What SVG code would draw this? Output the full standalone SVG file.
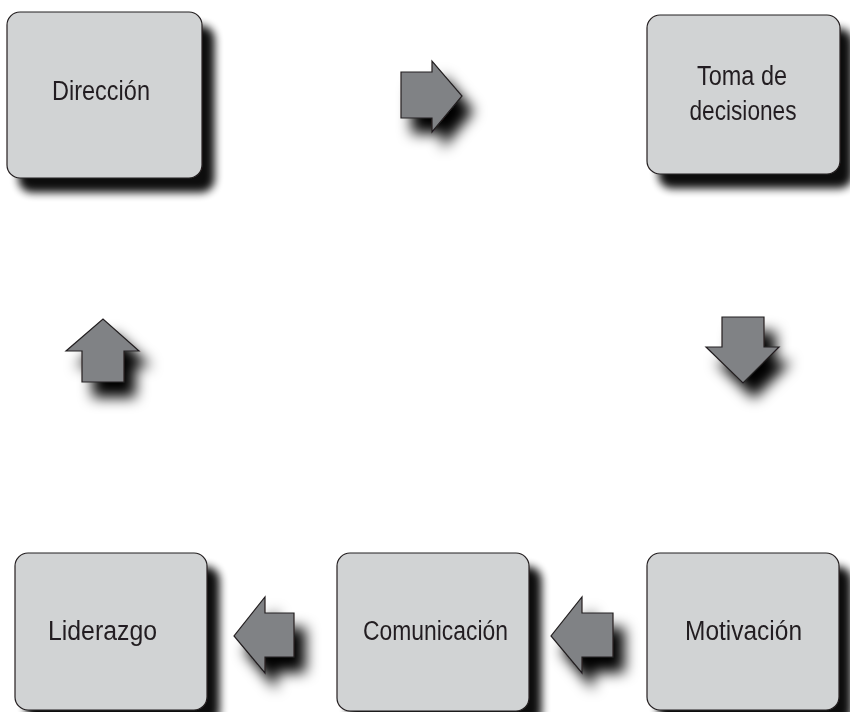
<svg xmlns="http://www.w3.org/2000/svg" width="850" height="712" viewBox="0 0 850 712">
<defs>
<filter id="sh" x="-20%" y="-20%" width="150%" height="150%">
<feGaussianBlur in="SourceAlpha" stdDeviation="4.5"/>
<feOffset dx="12" dy="14" result="b"/>
<feComponentTransfer><feFuncA type="linear" slope="0.95"/></feComponentTransfer>
<feMerge><feMergeNode/><feMergeNode in="SourceGraphic"/></feMerge>
</filter>
<filter id="ash" x="-50%" y="-50%" width="220%" height="220%">
<feGaussianBlur in="SourceAlpha" stdDeviation="7"/>
<feOffset dx="11" dy="15" result="b"/>
<feComponentTransfer><feFuncA type="linear" slope="1"/></feComponentTransfer>
<feMerge><feMergeNode/><feMergeNode in="SourceGraphic"/></feMerge>
</filter>
</defs>
<style>
.box{fill:#d1d3d4;stroke:#231f20;stroke-width:1.2}
.lbl{font-family:"Liberation Sans",Arial,sans-serif;font-size:27px;fill:#231f20;text-anchor:middle}
.arr{fill:#808285;stroke:#231f20;stroke-width:1.2;stroke-linejoin:miter}
</style>
<rect width="850" height="712" fill="#ffffff"/>
<g id="direccion" filter="url(#sh)">
<rect class="box" x="7" y="12" width="195" height="166" rx="13"/>
<text class="lbl" x="101" y="100" textLength="98" lengthAdjust="spacingAndGlyphs">Dirección</text>
</g>
<g id="toma" filter="url(#sh)">
<rect class="box" x="647" y="15" width="193" height="159" rx="13"/>
<text class="lbl" x="742" y="85" textLength="90" lengthAdjust="spacingAndGlyphs">Toma de</text>
<text class="lbl" x="743" y="120" textLength="107" lengthAdjust="spacingAndGlyphs">decisiones</text>
</g>
<g id="liderazgo" filter="url(#sh)">
<rect class="box" x="15" y="553" width="192" height="157" rx="13"/>
<text class="lbl" x="102.5" y="640" textLength="109" lengthAdjust="spacingAndGlyphs">Liderazgo</text>
</g>
<g id="comunicacion" filter="url(#sh)">
<rect class="box" x="337" y="553" width="192" height="158" rx="13"/>
<text class="lbl" x="435.5" y="640" textLength="145" lengthAdjust="spacingAndGlyphs">Comunicación</text>
</g>
<g id="motivacion" filter="url(#sh)">
<rect class="box" x="647" y="553" width="192" height="157" rx="13"/>
<text class="lbl" x="743.5" y="640" textLength="117" lengthAdjust="spacingAndGlyphs">Motivación</text>
</g>
<g id="connectors">
<path class="arr" filter="url(#ash)" d="M401,72 L432,72 L432,61 L462,96 L432,132 L432,118 L401,118 Z"/>
<path class="arr" filter="url(#ash)" d="M722,317 L764,317 L764,347 L779,347 L743,383 L706,347 L722,347 Z"/>
<path class="arr" filter="url(#ash)" d="M582,613 L613,613 L613,657 L582,657 L582,673 L551,636 L582,597 Z"/>
<path class="arr" filter="url(#ash)" d="M265,613 L294,613 L294,657 L265,657 L265,673 L234,636 L265,597 Z"/>
<path class="arr" filter="url(#ash)" d="M82,351 L66,351 L103,319 L139,351 L124,351 L124,382 L82,382 Z"/>
</g>
</svg>
